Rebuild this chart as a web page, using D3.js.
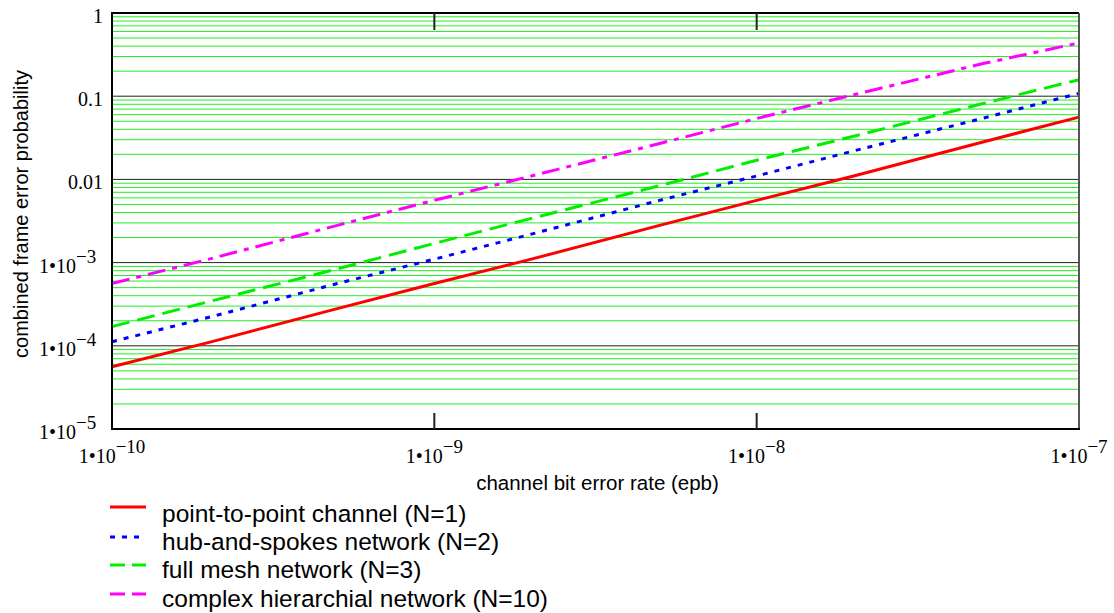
<!DOCTYPE html>
<html>
<head>
<meta charset="utf-8">
<script src="https://cdn.jsdelivr.net/npm/d3@7"></script>
<style>
  body { margin: 0; background: #fff; }
  svg { display: block; }
</style>
</head>
<body>
<div id="chart"></div>
<script>
// channel bit error rate (epb)
const berValues = [1e-10, 2e-10, 5e-10, 1e-9, 2e-9, 5e-9, 1e-8, 2e-8, 5e-8, 1e-7];

// combined frame error probability
const pointToPoint = [5.6e-5, 1.1e-4, 2.8e-4, 5.6e-4, 1.1e-3, 2.8e-3, 5.6e-3, 0.011, 0.028, 0.056];
const hubAndSpokes = [1.12e-4, 2.2e-4, 5.6e-4, 1.1e-3, 2.2e-3, 5.6e-3, 0.011, 0.022, 0.054, 0.108];
const fullMesh     = [1.7e-4, 3.4e-4, 8.4e-4, 1.7e-3, 3.4e-3, 8.4e-3, 0.017, 0.033, 0.081, 0.158];
const hierarchial  = [5.6e-4, 1.1e-3, 2.8e-3, 5.6e-3, 0.011, 0.027, 0.054, 0.104, 0.245, 0.437];

const seriesNames = [
  "point-to-point channel (N=1)",
  "hub-and-spokes network (N=2)",
  "full mesh network (N=3)",
  "complex hierarchial network (N=10)"
];

const xTickExps = [-10, -9, -8, -7];
const yTicks = [
  { v: 1, txt: "1" },
  { v: 0.1, txt: "0.1" },
  { v: 0.01, txt: "0.01" },
  { v: 1e-3, exp: -3 },
  { v: 1e-4, exp: -4 },
  { v: 1e-5, exp: -5 }
];

const width = 1114, height = 613;
const pLeft = 112, pRight = 1079, pTop = 13, pBottom = 429;

const svg = d3.select("#chart").append("svg")
  .attr("width", width)
  .attr("height", height);

const x = d3.scaleLog().domain([1e-10, 1e-7]).range([pLeft, pRight]);
const y = d3.scaleLog().domain([1e-5, 1]).range([pBottom, pTop]);

// minor grid (2..9 per decade)
const minor = [];
for (let e = -5; e < 0; e++) {
  for (let m = 2; m <= 9; m++) minor.push(m * Math.pow(10, e));
}
svg.append("g").selectAll("line")
  .data(minor)
  .enter().append("line")
  .attr("x1", pLeft).attr("x2", pRight)
  .attr("y1", d => y(d)).attr("y2", d => y(d))
  .attr("stroke", "#22ee22")
  .attr("stroke-width", 1);

// major grid
svg.append("g").selectAll("line")
  .data([0.1, 0.01, 1e-3, 1e-4])
  .enter().append("line")
  .attr("x1", pLeft).attr("x2", pRight)
  .attr("y1", d => y(d)).attr("y2", d => y(d))
  .attr("stroke", "#222")
  .attr("stroke-width", 1);

// series
const styles = [
  { color: "#ff0000", dash: null, data: pointToPoint },
  { color: "#0000ff", dash: "5,7", data: hubAndSpokes },
  { color: "#00ee00", dash: "18,8", data: fullMesh },
  { color: "#ff00ff", dash: "18,7,5,7", data: hierarchial }
];

const line = d3.line()
  .x(d => x(d[0]))
  .y(d => y(d[1]));

svg.append("g").selectAll("path")
  .data(styles)
  .enter().append("path")
  .attr("fill", "none")
  .attr("stroke", d => d.color)
  .attr("stroke-width", 3)
  .attr("stroke-dasharray", d => d.dash)
  .attr("d", d => line(berValues.map((b, i) => [b, d.data[i]])));

// frame
svg.append("line").attr("x1", pLeft).attr("x2", pRight).attr("y1", pTop).attr("y2", pTop)
  .attr("stroke", "#000").attr("stroke-width", 2);
svg.append("line").attr("x1", pRight).attr("x2", pRight).attr("y1", pTop).attr("y2", pBottom)
  .attr("stroke", "#555").attr("stroke-width", 2);
svg.append("line").attr("x1", pLeft).attr("x2", pLeft).attr("y1", pTop - 1).attr("y2", pBottom + 1)
  .attr("stroke", "#000").attr("stroke-width", 2);
svg.append("line").attr("x1", pLeft).attr("x2", pRight + 1).attr("y1", pBottom).attr("y2", pBottom)
  .attr("stroke", "#000").attr("stroke-width", 2);

// x ticks (inner decades only)
const inner = [1e-9, 1e-8];
svg.append("g").selectAll("line")
  .data(inner)
  .enter().append("line")
  .attr("x1", d => x(d)).attr("x2", d => x(d))
  .attr("y1", pTop).attr("y2", pTop + 17)
  .attr("stroke", "#222").attr("stroke-width", 2);
svg.append("g").selectAll("line")
  .data(inner)
  .enter().append("line")
  .attr("x1", d => x(d)).attr("x2", d => x(d))
  .attr("y1", pBottom).attr("y2", pBottom - 16)
  .attr("stroke", "#222").attr("stroke-width", 2);

const serif = "'Liberation Serif', 'Times New Roman', serif";
const sans = "'Liberation Sans', Arial, sans-serif";

// x tick labels: 1•10^n centred on tick
xTickExps.forEach(e => {
  const t = svg.append("text")
    .attr("x", x(Math.pow(10, e)))
    .attr("y", 463)
    .attr("text-anchor", "middle")
    .attr("font-family", serif)
    .attr("font-size", 20);
  t.append("tspan").text("1•10");
  t.append("tspan").attr("dy", -10).attr("font-size", 19).text("\u2212" + Math.abs(e));
});

// y tick labels
yTicks.forEach(d => {
  if (d.txt) {
    svg.append("text")
      .attr("x", 103)
      .attr("y", y(d.v) + 10)
      .attr("text-anchor", "end")
      .attr("font-family", serif)
      .attr("font-size", 20)
      .text(d.txt);
  } else {
    const t = svg.append("text")
      .attr("x", 39)
      .attr("y", y(d.v) + 10)
      .attr("font-family", serif)
      .attr("font-size", 20);
    t.append("tspan").text("1•10");
    t.append("tspan").attr("dy", -10).attr("font-size", 19).text("\u2212" + Math.abs(d.exp));
  }
});

// axis titles
svg.append("text")
  .attr("x", (pLeft + pRight) / 2 + 2)
  .attr("y", 490)
  .attr("text-anchor", "middle")
  .attr("font-family", sans)
  .attr("font-size", 20.5)
  .text("channel bit error rate (epb)");

svg.append("text")
  .attr("transform", "translate(28,214) rotate(-90)")
  .attr("text-anchor", "middle")
  .attr("font-family", sans)
  .attr("font-size", 20)
  .text("combined frame error probability");

// legend
const legendLines = [507, 537, 565, 594];
const legendText = [522, 550, 578, 607];
const legendDash = [null, "5,7", "15,7", "15,7"];

const lg = svg.append("g");
lg.selectAll("line")
  .data(styles)
  .enter().append("line")
  .attr("x1", 110).attr("x2", 146)
  .attr("y1", (d, i) => legendLines[i]).attr("y2", (d, i) => legendLines[i])
  .attr("stroke", d => d.color)
  .attr("stroke-width", 3)
  .attr("stroke-dasharray", (d, i) => legendDash[i]);

lg.selectAll("text")
  .data(seriesNames)
  .enter().append("text")
  .attr("x", 162)
  .attr("y", (d, i) => legendText[i])
  .attr("font-family", sans)
  .attr("font-size", 24.5)
  .text(d => d);
</script>
</body>
</html>
